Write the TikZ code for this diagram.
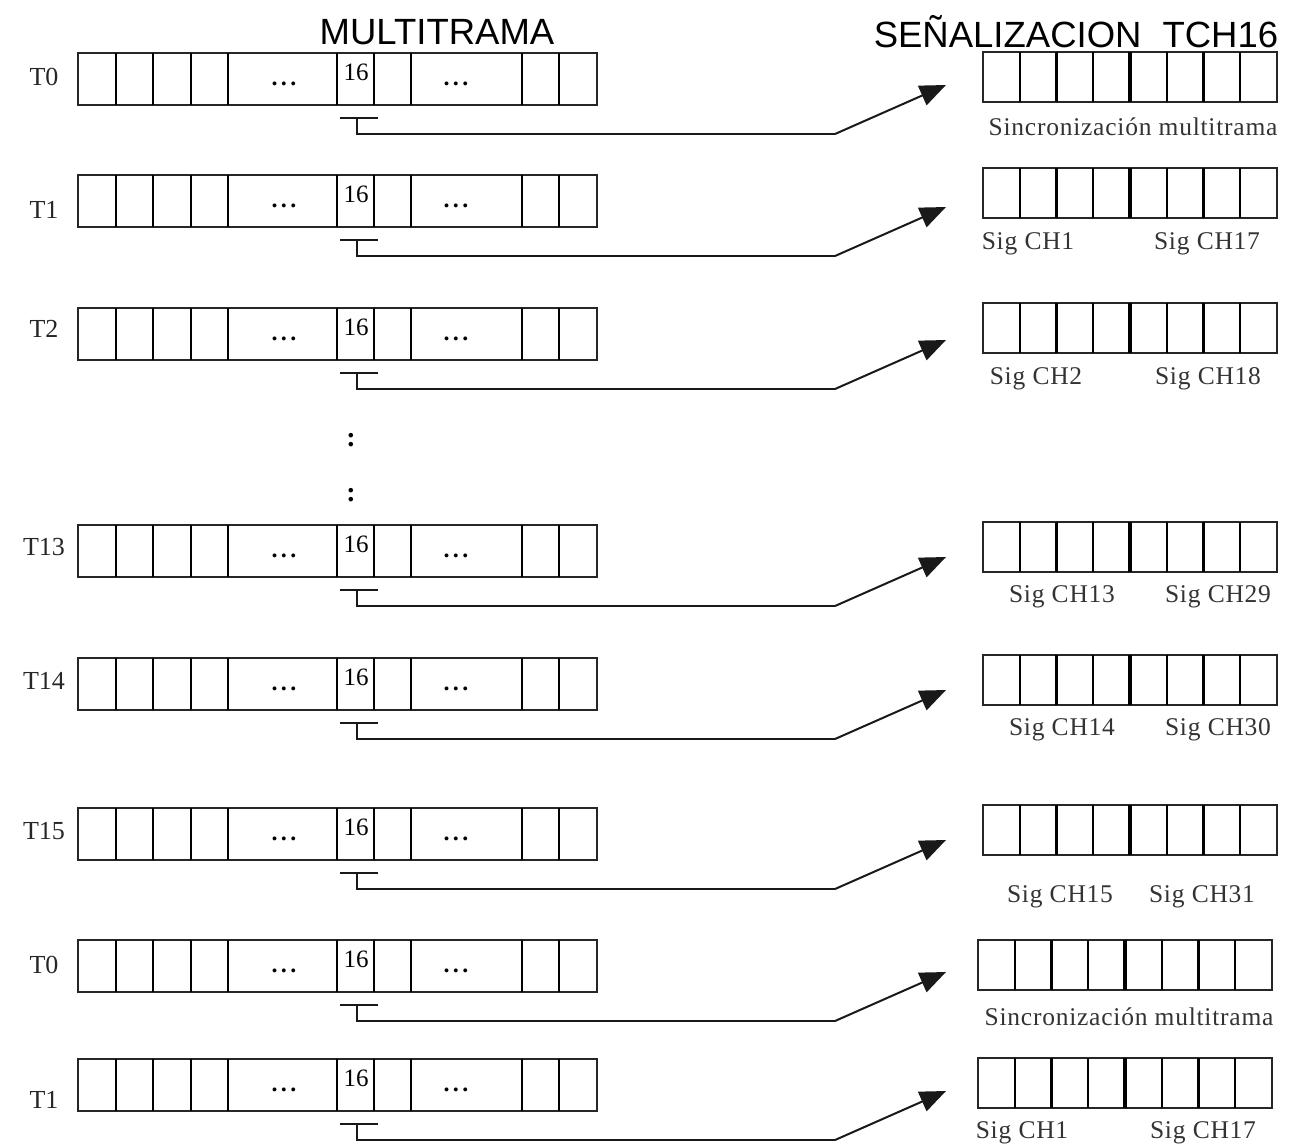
\documentclass[tikz,border=0pt]{standalone}
\usepackage{fontspec}
\setmainfont{Liberation Serif}
\newfontfamily\titlefont{Liberation Sans}
\newfontfamily\spacedfont[LetterSpace=3]{Liberation Serif}
\usetikzlibrary{arrows.meta}

\tikzset{
  lframe/.style={draw=black!85, line width=1.8pt, anchor=north west, minimum width=519pt, minimum height=52pt, inner sep=0pt, outer sep=0pt},
  rframe/.style={draw=black!85, line width=1.8pt, anchor=north west, minimum width=294pt, minimum height=50pt, inner sep=0pt, outer sep=0pt},
  divl/.style={line width=2.3pt, black},
  divmid/.style={line width=4.2pt, black},
  numtxt/.style={font=\fontsize{25}{28}\selectfont, inner sep=0pt},
  dotstxt/.style={font=\fontsize{24}{28}\selectfont\bfseries, inner sep=0pt},
  lbl/.style={font=\fontsize{26}{30}\selectfont, inner sep=0pt, text=black!85},
  sublbl/.style={font=\spacedfont\fontsize{25.5}{30}\selectfont, inner sep=0pt, text=black!80},
  title/.style={font=\titlefont\fontsize{36.5}{40}\selectfont, inner sep=0pt},
  conn/.style={line width=2pt, black!90},
  tip/.style={-{Triangle[length=26pt,width=21pt]}},
}

\newcommand\threedots{.\hspace{3.5pt}.\hspace{3.5pt}.}

\newcommand\leftrow[4]{%
  \node[lframe] (#1) at (78,#2) {};
  \foreach \xx in {116,153,191,228,337,374,411,522,559} \draw[divl] (\xx,#2) -- (\xx,#2+52);
  \node[numtxt] (#1-n) at (356,#2+19) {16};
  \node[dotstxt] (#1-d1) at (284,#2+31) {\threedots};
  \node[dotstxt] (#1-d2) at (456,#2+31) {\threedots};
  \node[lbl] (#1-l) at (44,#4) {#3};
  \coordinate (#1-b1) at (340,#2+65);
  \coordinate (#1-b2) at (378,#2+65);
  \coordinate (#1-b3) at (357,#2+65);
  \coordinate (#1-k) at (357,#2+81);
  \coordinate (#1-m) at (835,#2+81);
  \coordinate (#1-t) at (946,#2+32);
  \draw[conn] (#1-b1) -- (#1-b2);
  \draw[conn] (#1-b3) -- (#1-k) -- (#1-m);
  \draw[conn, tip] (#1-m) -- (#1-t);
}

\newcommand\rightrow[3]{%
  \node[rframe] (#1) at (#2,#3) {};
  \foreach \i in {1,2,3,5,6,7} \draw[divl] (#2+\i*36.75,#3) -- (#2+\i*36.75,#3+50);
  \draw[divmid] (#2+147,#3) -- (#2+147,#3+50);
}

\begin{document}
\begin{tikzpicture}[x=1pt,y=-1pt]
\useasboundingbox (0,0) rectangle (1295,1146);

\node[title] (t1) at (437,32) {MULTITRAMA};
\node[title] (t2) at (1076,32) {SEÑALIZACION\hspace{0.3em} TCH16};

\leftrow{r0}{53}{T0}{77}
\leftrow{r1}{175}{T1}{210}
\leftrow{r2}{308}{T2}{329}
\leftrow{r13}{525}{T13}{547}
\leftrow{r14}{658}{T14}{681}
\leftrow{r15}{808}{T15}{831}
\leftrow{r0b}{940}{T0}{965}
\leftrow{r1b}{1059}{T1}{1100}

\node[font=\fontsize{28}{30}\selectfont\bfseries, inner sep=0pt] (c1) at (351,440) {:};
\node[font=\fontsize{28}{30}\selectfont\bfseries, inner sep=0pt] (c2) at (351,495) {:};

\rightrow{s0}{983}{52}
\rightrow{s1}{983}{168}
\rightrow{s2}{983}{303}
\rightrow{s13}{983}{522}
\rightrow{s14}{983}{655}
\rightrow{s15}{983}{805}
\rightrow{s0b}{978}{940}
\rightrow{s1b}{978}{1058}

\node[sublbl] (s0-a) at (1133,127) {Sincronización multitrama};
\node[sublbl] (s1-a) at (1028,244) {Sig CH1};
\node[sublbl] (s1-b) at (1207,244) {Sig CH17};
\node[sublbl] (s2-a) at (1036,379) {Sig CH2};
\node[sublbl] (s2-b) at (1208,379) {Sig CH18};
\node[sublbl] (s13-a) at (1062,597) {Sig CH13};
\node[sublbl] (s13-b) at (1218,597) {Sig CH29};
\node[sublbl] (s14-a) at (1062,730) {Sig CH14};
\node[sublbl] (s14-b) at (1218,730) {Sig CH30};
\node[sublbl] (s15-a) at (1060,897) {Sig CH15};
\node[sublbl] (s15-b) at (1202,897) {Sig CH31};
\node[sublbl] (s0b-a) at (1129,1017) {Sincronización multitrama};
\node[sublbl] (s1b-a) at (1022,1133) {Sig CH1};
\node[sublbl] (s1b-b) at (1203,1133) {Sig CH17};
\end{tikzpicture}
\end{document}
